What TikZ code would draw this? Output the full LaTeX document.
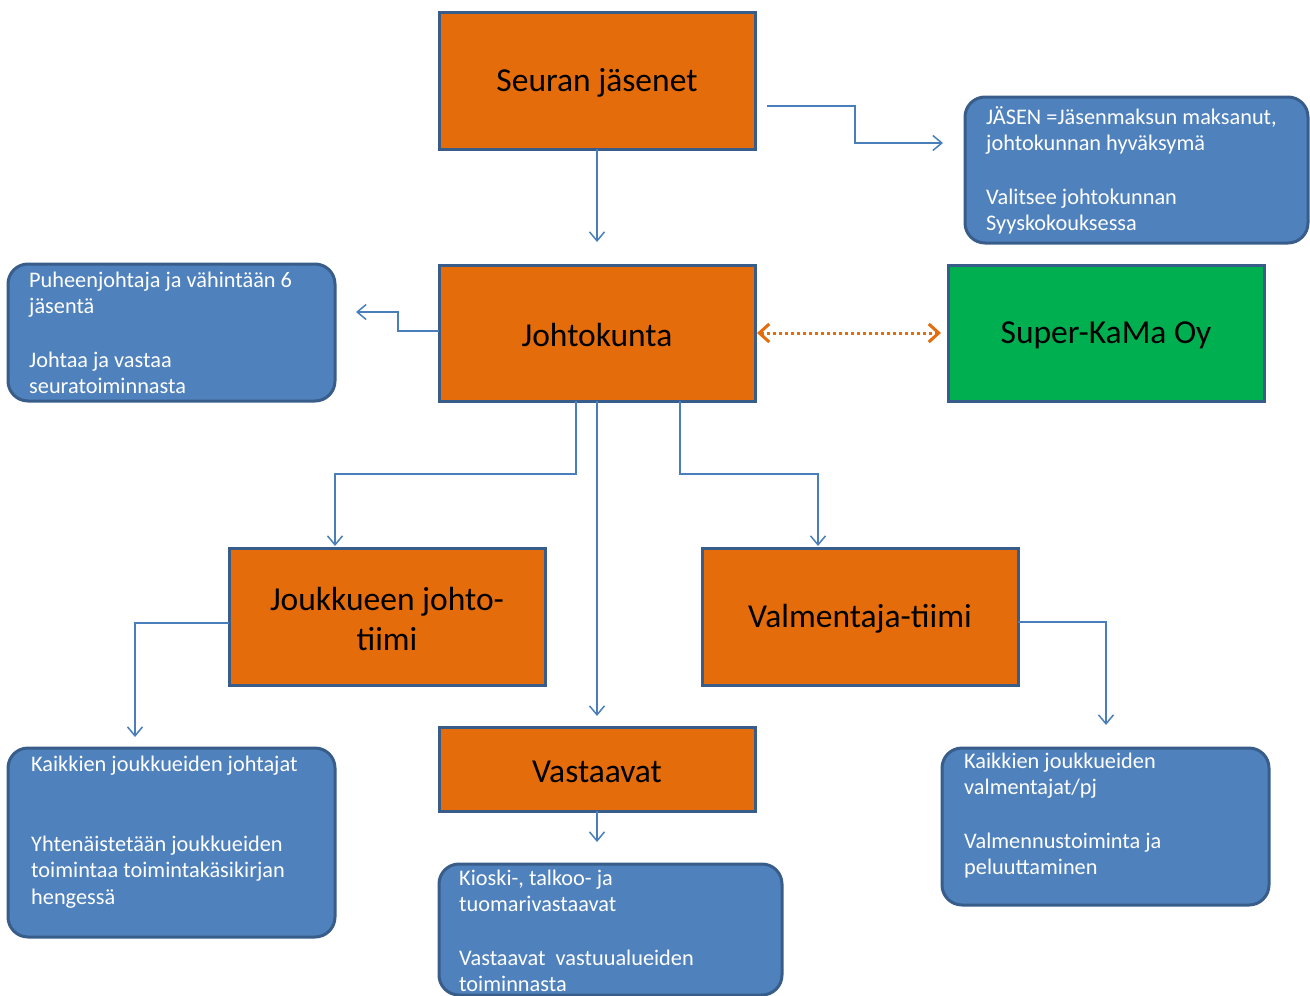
\documentclass[tikz,border=0pt]{standalone}
\usepackage{fontspec}
\setmainfont{Carlito}
\usetikzlibrary{arrows.meta}
\definecolor{orfill}{HTML}{E46C0A}
\definecolor{blfill}{HTML}{4F81BD}
\definecolor{bdcol}{HTML}{385D8A}
\definecolor{grfill}{HTML}{00B050}
\definecolor{lncol}{HTML}{4A7EBB}
\tikzset{
  obox/.style={draw=bdcol, line width=3pt, fill=orfill, rectangle, inner sep=0pt, outer sep=0pt, anchor=north west},
  gbox/.style={draw=bdcol, line width=3pt, fill=grfill, rectangle, inner sep=0pt, outer sep=0pt, anchor=north west},
  bbox/.style={draw=bdcol, line width=3pt, fill=blfill, rectangle, rounded corners=20pt, inner sep=0pt, outer sep=0pt, anchor=north west},
  otext/.style={align=center, inner sep=0pt, font=\fontsize{33.5}{40}\selectfont},
  btext/.style={anchor=base west, inner sep=0pt, text=white},
  conn/.style={draw=lncol, line width=1.5pt, -{Straight Barb[length=9pt,width=15pt,line width=1.5pt]}},
  dotconn/.style={draw=orfill, line width=3pt, dash pattern=on 3pt off 3pt, {Straight Barb[length=10pt,width=18pt,line width=3pt]}-{Straight Barb[length=10pt,width=18pt,line width=3pt]}},
}
\newcommand{\btx}[2]{\parbox[t]{#1}{\fontsize{22.3}{26.7}\selectfont\raggedright #2}}
\begin{document}
\begin{tikzpicture}[x=1pt,y=-1pt]
\useasboundingbox (0,0) rectangle (1310,996);
% orange boxes
\node[obox, minimum width=316pt, minimum height=137pt] (seura) at (439,12) {};
\node[otext] (seurat) at (597,83) {Seuran jäsenet};
\node[obox, minimum width=316pt, minimum height=136pt] (johto) at (439,265) {};
\node[otext] (johtot) at (597,335) {Johtokunta};
\node[gbox, minimum width=316pt, minimum height=136pt] (super) at (948,265) {};
\node[otext] (supert) at (1106,335) {Super-KaMa Oy};
\node[obox, minimum width=316pt, minimum height=137pt] (jjt) at (229,548) {};
\node[otext] (jjtt) at (387,619) {Joukkueen johto-\\ tiimi};
\node[obox, minimum width=316pt, minimum height=137pt] (valm) at (702,548) {};
\node[otext] (valmt) at (860,619) {Valmentaja-tiimi};
\node[obox, minimum width=316pt, minimum height=84pt] (vast) at (439,727) {};
\node[otext] (vastt) at (597,772) {Vastaavat};
% blue boxes
\node[bbox, minimum width=343pt, minimum height=146pt] (jasen) at (965,97) {};
\node[btext] (jasent) at (986,124) {\btx{320pt}{JÄSEN =Jäsenmaksun maksanut,\\ johtokunnan hyväksymä\\[26.7pt] Valitsee johtokunnan\\ Syyskokouksessa}};
\node[bbox, minimum width=327pt, minimum height=137pt] (puh) at (8,264) {};
\node[btext] (puht) at (29,287) {\btx{300pt}{Puheenjohtaja ja vähintään 6\\ jäsentä\\[26.7pt] Johtaa ja vastaa\\ seuratoiminnasta}};
\node[bbox, minimum width=327pt, minimum height=189pt] (kjoht) at (8,748) {};
\node[btext] (kjohtt) at (31,771) {\btx{300pt}{Kaikkien joukkueiden johtajat\\[53.4pt] Yhtenäistetään joukkueiden\\ toimintaa toimintakäsikirjan\\ hengessä}};
\node[bbox, minimum width=343pt, minimum height=131pt] (kiosk) at (439,864) {};
\node[btext] (kioskt) at (459,885) {\btx{320pt}{Kioski-, talkoo- ja\\ tuomarivastaavat\\[26.7pt] Vastaavat\ \ vastuualueiden\\ toiminnasta}};
\node[bbox, minimum width=327pt, minimum height=157pt] (kvalm) at (942,748) {};
\node[btext] (kvalmt) at (964,768) {\btx{300pt}{Kaikkien joukkueiden\\ valmentajat/pj\\[26.7pt] Valmennustoiminta ja\\ peluuttaminen}};
% connectors
\coordinate (s0) at (767,106);
\coordinate (e1) at (943,143);
\draw[conn] (s0) -- (855,106) -- (855,143) -- (e1);
\coordinate (e0) at (597,242);
\draw[conn] (seura.south) -- (e0);
\coordinate (e2) at (356,312);
\draw[conn] ([yshift=2pt]johto.west) -- (398,331) -- (398,312) -- (e2);
\draw[dotconn] ([xshift=2pt]johto.east) -- ([xshift=-7pt]super.west);
\coordinate (e3) at (335,546);
\coordinate (e4) at (818,546);
\coordinate (e5) at (597,716);
\draw[conn] ([xshift=-21pt]johto.south) -- (576,474) -- (335,474) -- (e3);
\draw[conn] ([xshift=83pt]johto.south) -- (680,474) -- (818,474) -- (e4);
\draw[conn] (johto.south) -- (e5);
\coordinate (e6) at (135,737);
\draw[conn] ([yshift=-6.5pt]jjt.west) -- (135,623) -- (e6);
\coordinate (e7) at (1106,725);
\draw[conn] ([yshift=-5.5pt]valm.east) -- (1106,622) -- (e7);
\coordinate (e8) at (597,842);
\draw[conn] (vast.south) -- (e8);
\end{tikzpicture}
\end{document}
